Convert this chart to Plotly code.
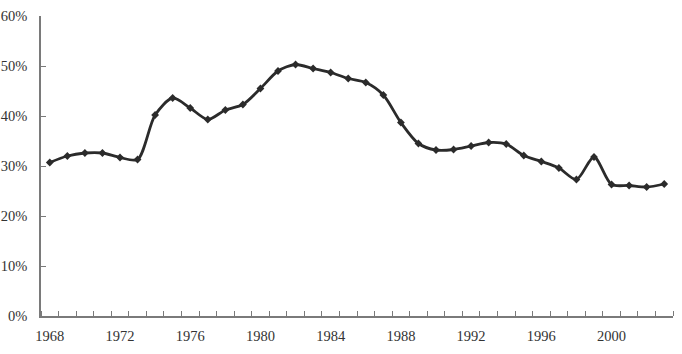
import plotly.graph_objects as go

years = list(range(1968, 2004))
values = [30.7, 32.0, 32.6, 32.6, 31.7, 31.3, 40.2, 43.6, 41.6, 39.3, 41.2, 42.3,
          45.5, 49.0, 50.3, 49.5, 48.7, 47.5, 46.7, 44.2, 38.7, 34.5, 33.2, 33.3,
          34.0, 34.7, 34.4, 32.1, 30.9, 29.6, 27.3, 31.8, 26.3, 26.1, 25.8, 26.4]
x_tick_years = [1968, 1972, 1976, 1980, 1984, 1988, 1992, 1996, 2000]
y_ticks = [0, 10, 20, 30, 40, 50, 60]

axis_col = "#7a7a7a"
font = dict(family="Liberation Serif, Times New Roman, serif", size=14.5, color="#333333")

fig = go.Figure()
fig.add_trace(go.Scatter(
    x=years, y=values, mode="lines+markers",
    line=dict(color="#2b2b2b", width=2.8, shape="spline", smoothing=0.8),
    marker=dict(symbol="diamond", size=6, color="#2b2b2b"),
    showlegend=False,
))

fig.update_layout(
    width=682, height=354,
    margin=dict(l=41, r=9, t=16, b=38),
    paper_bgcolor="white", plot_bgcolor="white",
    font=font,
    xaxis=dict(
        range=[1967.5, 2003.5], tickvals=x_tick_years,
        ticktext=[str(y) for y in x_tick_years],
        ticks="", showgrid=False, zeroline=False,
        showline=True, linecolor=axis_col, linewidth=1.5,
        minor=dict(ticks="inside", tick0=1967.5, dtick=1, ticklen=5,
                   tickcolor=axis_col, tickwidth=1, showgrid=False),
        ticklabelstandoff=6, automargin=False,
    ),
    yaxis=dict(
        range=[0, 60], tickvals=y_ticks,
        ticktext=[f"{v}%" for v in y_ticks],
        ticks="inside", ticklen=5, tickcolor=axis_col, tickwidth=1,
        showgrid=False, zeroline=False,
        showline=True, linecolor=axis_col, linewidth=1.5,
        ticklabelstandoff=9, automargin=False,
    ),
)

fig.write_html("out.html")
